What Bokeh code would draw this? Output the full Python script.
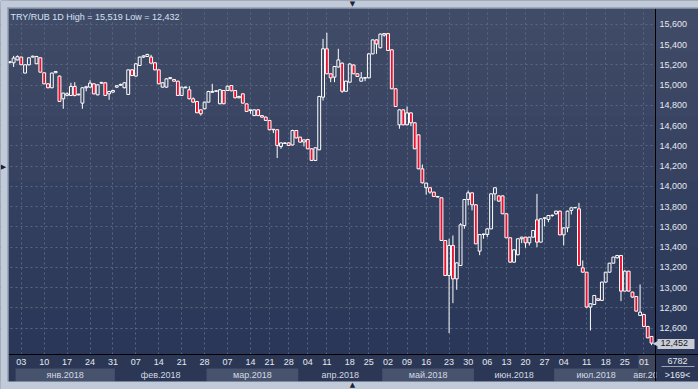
from bokeh.plotting import figure
from bokeh.models import (ColumnDataSource, FixedTicker, NumeralTickFormatter, LinearAxis,
                          BoxAnnotation, Label, Range1d)
from bokeh.embed import file_html
from bokeh.resources import INLINE

# ---------------- data ----------------
opens = [15225, 15222, 15250, 15278, 15120, 15202, 15278, 15212, 15271, 15123,
         15014, 14975, 15123, 15090, 14866, 14900, 14899, 14988, 14905, 14823,
         14975, 14981, 15014, 14905, 15020, 15024, 14915, 14932, 14981, 15000,
         14975, 14909, 15152, 15090, 15195, 15278, 15284, 15278, 15222, 15152,
         14981, 14981, 15065, 15057, 15040, 14899, 14975, 14955, 14866, 14839,
         14757, 14767, 14833, 14930, 14940, 14817, 14948, 14948, 14997, 14948,
         14876, 14915, 14816, 14750, 14700, 14757, 14700, 14685, 14652, 14560,
         14560, 14395, 14425, 14430, 14410, 14553, 14487, 14440, 14464, 14372,
         14257, 14362, 14882, 15360, 15113, 15080, 15180, 15218, 14940, 15030,
         15200, 15113, 15040, 15070, 15073, 15310, 15448, 15370, 15495, 15510,
         15350, 14965, 14609, 14757, 14609, 14727, 14629, 14510, 14174, 13987,
         13987, 13944, 13901, 13888, 13466, 13120, 13417, 13087, 13219, 13614,
         13871, 13937, 13819, 13361, 13525, 13525, 13581, 13927, 13907, 13907,
         13730, 13493, 13252, 13325, 13483, 13499, 13443, 13499, 13670, 13450,
         13685, 13674, 13713, 13730, 13756, 13522, 13591, 13763, 13789, 13779,
         13196, 13153, 12808, 12834, 12890, 12874, 13055, 13153, 13242, 13295,
         13318, 12966, 13163, 12956, 12913, 12726, 12735, 12617, 12518]
highs = [15240, 15290, 15295, 15282, 15205, 15275, 15292, 15290, 15275, 15125,
         15018, 15125, 15140, 15095, 14925, 14930, 15024, 15030, 14915, 14980,
         14990, 15050, 15018, 15008, 15030, 15028, 14945, 14955, 15000, 15015,
         15030, 15155, 15160, 15215, 15282, 15295, 15310, 15300, 15225, 15155,
         15030, 15070, 15080, 15060, 15045, 14985, 14985, 14990, 14880, 14842,
         14760, 14838, 14945, 15014, 14950, 14960, 14950, 14997, 15000, 14952,
         14895, 14918, 14820, 14760, 14760, 14765, 14702, 14690, 14655, 14565,
         14565, 14435, 14435, 14435, 14560, 14556, 14490, 14465, 14468, 14375,
         14385, 14895, 15458, 15519, 15116, 15190, 15360, 15225, 15045, 15215,
         15205, 15116, 15130, 15080, 15315, 15452, 15455, 15510, 15515, 15512,
         15355, 14968, 14760, 14760, 14790, 14730, 14632, 14513, 14217, 14036,
         13990, 13947, 13903, 13890, 13470, 13483, 13516, 13250, 13637, 13875,
         13960, 13940, 13822, 13528, 13533, 13585, 13930, 13990, 13910, 13910,
         13733, 13496, 13377, 13486, 13502, 13502, 13502, 13568, 13927, 13683,
         13693, 13716, 13722, 13760, 13760, 13595, 13760, 13792, 13795, 13838,
         13269, 13155, 12845, 12926, 12893, 13058, 13156, 13245, 13305, 13322,
         13322, 13173, 13166, 12960, 12916, 13032, 12738, 12620, 12521]
lows = [15215, 15180, 15245, 15200, 15118, 15195, 15275, 15210, 15125, 15010,
        14970, 14970, 15120, 14835, 14767, 14890, 14895, 14890, 14900, 14767,
        14940, 14975, 14910, 14900, 15015, 14895, 14856, 14925, 14975, 14995,
        14970, 14905, 15090, 15085, 15190, 15270, 15280, 15215, 15148, 15010,
        14978, 14975, 15060, 15035, 14895, 14895, 14970, 14860, 14825, 14725,
        14700, 14763, 14830, 14925, 14935, 14812, 14812, 14945, 14940, 14870,
        14870, 14818, 14735, 14718, 14695, 14695, 14680, 14648, 14555, 14527,
        14280, 14372, 14420, 14400, 14405, 14475, 14435, 14395, 14368, 14253,
        14253, 14358, 14849, 15110, 15030, 15030, 15175, 14925, 14935, 15025,
        15110, 15083, 15035, 15040, 15070, 15305, 15310, 15365, 15480, 15340,
        14960, 14785, 14570, 14605, 14605, 14596, 14368, 14170, 14030, 13918,
        13928, 13898, 13893, 13462, 13115, 12551, 12847, 12979, 13215, 13582,
        13812, 13763, 13430, 13321, 13483, 13499, 13578, 13861, 13850, 13727,
        13490, 13245, 13248, 13320, 13440, 13394, 13417, 13496, 13400, 13446,
        13605, 13647, 13700, 13720, 13518, 13417, 13548, 13723, 13785, 13215,
        13150, 12800, 12577, 12830, 12870, 12870, 13050, 13150, 13239, 13290,
        12867, 12962, 12962, 12900, 12765, 12720, 12614, 12500, 12432]
closes = [15232, 15268, 15282, 15202, 15202, 15271, 15287, 15284, 15129, 15014,
          14975, 15120, 15136, 14840, 14922, 14915, 14988, 14899, 14912, 14975,
          14985, 15021, 14915, 15004, 15028, 14899, 14938, 14948, 14995, 15008,
          15024, 15152, 15096, 15212, 15278, 15290, 15304, 15218, 15152, 15014,
          15024, 15063, 15075, 15040, 14899, 14981, 14982, 14866, 14833, 14728,
          14718, 14833, 14938, 14938, 14945, 14955, 14817, 14990, 14945, 14876,
          14889, 14823, 14741, 14757, 14757, 14700, 14685, 14652, 14560, 14565,
          14405, 14430, 14430, 14405, 14553, 14480, 14438, 14460, 14372, 14257,
          14382, 14889, 15360, 15113, 15073, 15185, 15250, 14940, 15040, 15210,
          15113, 15086, 15073, 15075, 15310, 15448, 15408, 15505, 15510, 15343,
          14965, 14790, 14757, 14609, 14727, 14629, 14372, 14174, 14036, 14033,
          13944, 13901, 13895, 13466, 13120, 13417, 13087, 13245, 13621, 13871,
          13937, 13819, 13433, 13525, 13530, 13581, 13927, 13987, 13855, 13730,
          13493, 13252, 13374, 13483, 13499, 13443, 13499, 13565, 13450, 13680,
          13690, 13713, 13716, 13756, 13522, 13591, 13756, 13789, 13792, 13220,
          13153, 12808, 12841, 12923, 12874, 13055, 13153, 13242, 13302, 13318,
          12966, 13163, 12966, 12907, 12768, 12758, 12617, 12505, 12452]

price_ticks = [12600, 12800, 13000, 13200, 13400, 13600, 13800, 14000, 14200,
               14400, 14600, 14800, 15000, 15200, 15400, 15600]
day_tick_pos = [4, 10, 16, 22, 28, 34, 40, 46, 52, 58, 64, 69, 74, 79, 84, 90,
                95, 100, 105, 110, 116, 121, 126, 131, 136, 141, 146, 152, 157, 162, 167]
day_tick_labels = ["03", "10", "17", "24", "31", "07", "14", "21", "28", "07", "14",
                   "21", "28", "04", "11", "18", "25", "02", "09", "16", "23", "30",
                   "06", "13", "20", "27", "04", "11", "18", "25", "01"]
month_starts = [2.5, 28.5, 52.5, 76.5, 98.5, 122.5, 143.5, 165.5]
month_ends = [28.5, 52.5, 76.5, 98.5, 122.5, 143.5, 165.5, 170.0]
month_label_pos = [15.5, 40.5, 64.5, 87.5, 110.5, 133.0, 154.5, 168.7]
month_labels = ["янв.2018", "фев.2018", "мар.2018", "апр.2018", "май.2018",
                "июн.2018", "июл.2018", "авг.2018"]
volume_text = "6782"

# ---------------- layout helpers (canvas pixel -> data) ----------------
W, H = 698, 389
X0, X1 = -1.435, 181.29
Y0, Y1 = 11994.0, 15837.0

def kx(px):
    return X0 + px * (X1 - X0) / W

def vy(py):
    return Y1 - py * (Y1 - Y0) / H

# ---------------- derived ----------------
n = len(opens)
idx = list(range(1, n + 1))
tops = [max(o, c) for o, c in zip(opens, closes)]
bots = [min(o, c) for o, c in zip(opens, closes)]
is_up = [c >= o for o, c in zip(opens, closes)]

def subset(flag):
    sel = [i for i in range(n) if is_up[i] == flag]
    return ColumnDataSource(dict(
        x=[idx[i] for i in sel], top=[tops[i] for i in sel], bottom=[bots[i] for i in sel]))

src_all = ColumnDataSource(dict(x=idx, top=tops, bottom=bots, high=highs, low=lows))
src_up = subset(True)
src_dn = subset(False)

FONT = "Liberation Sans"
TXT = "#e4e9f1"
LOW_BG = "#2b3754"

p = figure(width=W, height=H, x_range=Range1d(X0, X1), y_range=Range1d(Y0, Y1),
           output_backend="svg", toolbar_location=None, y_axis_location="right",
           min_border_left=0, min_border_top=0, min_border_right=0, min_border_bottom=0,
           background_fill_color="#36435f", border_fill_color=LOW_BG,
           outline_line_color=None)

def box(l, r, t, b, color, level="annotation"):
    # l, r, t, b in canvas pixels (y downward)
    p.add_layout(BoxAnnotation(left=l, right=r, top=H - t, bottom=H - b,
                               left_units="screen", right_units="screen",
                               top_units="screen", bottom_units="screen",
                               fill_color=color, fill_alpha=1, line_color=None, level=level))

# gradient background (plot area below grid, scale area above grid)
top_rgb = (64, 75, 103)
bot_rgb = (42, 55, 88)
nb = 16
for i in range(nb):
    t = i / (nb - 1)
    col = "#%02x%02x%02x" % tuple(int(round(a + (b - a) * t)) for a, b in zip(top_rgb, bot_rgb))
    y_t = 8 + i * 346.0 / nb - 0.5
    y_b = 8 + (i + 1) * 346.0 / nb + 0.5
    box(8, 655, y_t, y_b, col, level="image")
    box(655, W, y_t, y_b, col, level="glyph")

# lower scale area
box(8, W, 354, 381, LOW_BG, level="glyph")
for k, (a, b) in enumerate(zip(month_starts, month_ends)):
    if k == len(month_starts) - 1:
        col, t_px = "#3e475e", 354
    elif k % 2 == 0:
        col, t_px = "#47536d", 368
    else:
        continue
    p.add_layout(BoxAnnotation(left=a, right=b, top=H - t_px, bottom=H - 381,
                               left_units="data", right_units="data",
                               top_units="screen", bottom_units="screen",
                               fill_color=col, fill_alpha=1, line_color=None, level="glyph"))

# axes
yax = p.yaxis[0]
yax.fixed_location = kx(655)
yax.bounds = (vy(381), vy(8))
yax.ticker = FixedTicker(ticks=price_ticks)
yax.formatter = NumeralTickFormatter(format="0,0")
yax.axis_line_color = "black"
yax.major_tick_line_color = None
yax.minor_tick_line_color = None
yax.major_tick_out = 0
yax.major_tick_in = 0
yax.major_label_standoff = 4
yax.major_label_text_font = FONT
yax.major_label_text_font_size = "9px"
yax.major_label_text_color = TXT

xax = p.xaxis[0]
xax.fixed_location = vy(354)
xax.bounds = (kx(8), kx(W))
xax.ticker = FixedTicker(ticks=day_tick_pos)
xax.major_label_overrides = {pos: lab for pos, lab in zip(day_tick_pos, day_tick_labels)}
xax.axis_line_color = "black"
xax.major_tick_line_color = None
xax.minor_tick_line_color = None
xax.major_tick_out = 0
xax.major_tick_in = 0
xax.major_label_standoff = 4
xax.major_label_text_font = FONT
xax.major_label_text_font_size = "9px"
xax.major_label_text_color = TXT

mon_ax = LinearAxis(ticker=FixedTicker(ticks=month_label_pos), fixed_location=vy(368.5),
                    bounds=(kx(8), kx(W)),
                    major_label_overrides={pos: lab for pos, lab in zip(month_label_pos, month_labels)},
                    axis_line_color=None, major_tick_line_color=None, minor_tick_line_color=None,
                    major_tick_out=0, major_tick_in=0, major_label_standoff=1,
                    major_label_text_font=FONT, major_label_text_font_size="9px",
                    major_label_text_color="#d3d9e3")
p.add_layout(mon_ax, "below")

for g in (p.xgrid, p.ygrid):
    g.grid_line_color = "#5a6682"
    g.grid_line_dash = "2 3"
    g.grid_line_width = 1

# candles
p.segment(x0="x", y0="high", x1="x", y1="top", source=src_all, line_color="white", line_width=1)
p.segment(x0="x", y0="bottom", x1="x", y1="low", source=src_all, line_color="white", line_width=1)
p.vbar(x="x", width=0.76, top="top", bottom="bottom", source=src_up,
       fill_alpha=0, line_color="white", line_width=1)
p.vbar(x="x", width=0.76, top="top", bottom="bottom", source=src_dn,
       fill_color="#e8102e", line_color="white", line_width=1)

# corner cell (covers the overflowing month label)
box(656, W, 355, 381, LOW_BG)
box(661, 694, 365.5, 366.5, "#9aa3b4")

# outer light frame
FR = "#c0cad9"
box(0, W, 0, 8, FR)
box(0, 8, 0, H, FR)
box(0, W, 381, H, FR)
box(7, W, 7, 8, "#7d8799")
box(7, 8, 7, 381, "#7d8799")

# small frame arrows
for tx, x, y in [("▼", 352, 3), ("▲", 352, 384.5), ("▶", 3, 166)]:
    p.add_layout(Label(x=x, y=H - y, x_units="screen", y_units="screen", text=tx,
                       text_align="center", text_baseline="middle", text_font="DejaVu Sans",
                       text_font_size="7px", text_color="#1b2232"))

# title
p.add_layout(Label(x=10, y=H - 11, x_units="screen", y_units="screen",
                   text="TRY/RUB 1D High = {:,} Low = {:,}".format(max(highs), min(lows)),
                   text_align="left", text_baseline="top", text_font=FONT,
                   text_font_size="9px", text_color="#d4e2f6"))

# last price tag
box(657, 694, 338.5, 348.5, "#c9ccd4")
p.add_layout(Label(x=652, y=closes[-1], x_units="screen", y_units="data", text="◀",
                   text_align="left", text_baseline="middle", text_font="DejaVu Sans",
                   text_font_size="9px", text_color="#c9ccd4"))
p.add_layout(Label(x=660, y=closes[-1], x_units="screen", y_units="data",
                   text="{:,}".format(closes[-1]),
                   text_align="left", text_baseline="middle", text_font=FONT,
                   text_font_size="9px", text_color="#151a24"))

# corner info
p.add_layout(Label(x=677, y=H - 360, x_units="screen", y_units="screen", text=volume_text,
                   text_align="center", text_baseline="middle", text_font=FONT,
                   text_font_size="9px", text_color=TXT))
p.add_layout(Label(x=677, y=H - 374, x_units="screen", y_units="screen", text=">{}<".format(n),
                   text_align="center", text_baseline="middle", text_font=FONT,
                   text_font_size="9px", text_color=TXT))

open("out.html", "w").write(file_html(p, INLINE))
